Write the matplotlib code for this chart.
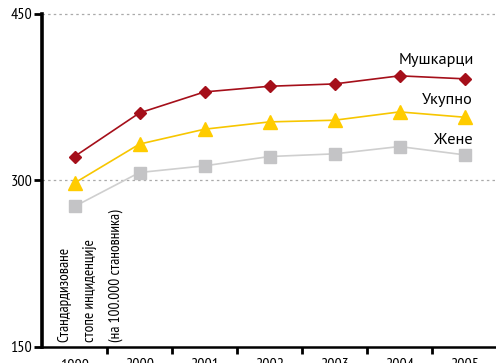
import matplotlib
matplotlib.use("Agg")
import matplotlib.pyplot as plt
from matplotlib import font_manager
from matplotlib.ticker import FixedLocator

installed = {f.name for f in font_manager.fontManager.ttflist}


def pick(cands):
    return [c for c in cands if c in installed][:1] + ['DejaVu Sans']


narrow = pick(['PT Sans Narrow', 'Roboto Condensed', 'Fira Sans Condensed',
               'IBM Plex Sans Condensed', 'Liberation Sans Narrow'])
regular = pick(['PT Sans', 'Fira Sans', 'Noto Sans', 'Open Sans'])
plt.rcParams['font.family'] = narrow

years = ['1999', '2000', '2001', '2002', '2003', '2004', '2005']
muskarci = [321.6, 360.9, 379.8, 384.9, 387.0, 394.3, 391.6]
ukupno = [297.7, 332.8, 346.2, 352.8, 354.3, 361.8, 357.0]
zene = [276.6, 307.2, 313.2, 321.6, 324.0, 330.6, 323.1]
series_names = ['Мушкарци', 'Укупно', 'Жене']
ylabel_lines = ['Стандардизоване', 'стопе инциденције', '(на 100.000 становника)']
yticks = [150, 300, 450]

W, H = 496, 363
fig = plt.figure(figsize=(W / 100, H / 100), dpi=100)
ax = fig.add_axes([42 / W, (H - 347) / H, 455 / W, 333 / H])

x = list(range(len(years)))
ax.plot(x, zene, color='#cfcfcf', lw=1.2, marker='s', ms=9.2,
        mfc='#c4c4c6', mec='#c4c4c6', zorder=3)
ax.plot(x, ukupno, color='#f7c600', lw=1.2, marker='^', ms=10,
        mfc='#ffcc00', mec='#ffcc00', zorder=3)
ax.plot(x, muskarci, color='#a50f1a', lw=1.2, marker='D', ms=6.4,
        mfc='#a50f1a', mec='#a50f1a', zorder=3)

ax.set_xlim(-0.5, 6.5)
ax.set_ylim(150, 450)

ax.set_yticks(yticks)
ax.set_yticklabels([str(v) for v in yticks], fontsize=11.5)
ax.tick_params(axis='y', direction='out', length=6, width=2, pad=1, colors='black')

ax.set_xticks(x)
ax.set_xticklabels(years, fontsize=11.5)
ax.tick_params(axis='x', which='major', length=0, pad=8)
ax.xaxis.set_minor_locator(FixedLocator([i + 0.5 for i in range(6)]))
ax.tick_params(axis='x', which='minor', direction='out', length=5, width=2)

for s in ['top', 'right']:
    ax.spines[s].set_visible(False)
ax.spines['left'].set_linewidth(2.6)
ax.spines['bottom'].set_linewidth(1.8)

for yv in [300, 450]:
    ax.axhline(yv, color='#aaaaaa', lw=0.9, ls=(0, (2, 2.5)), zorder=1, clip_on=False)

# series labels
label_pos = [(474, 64), (473, 104), (473, 144)]
name_texts = []
for name, (px, py) in zip(series_names, label_pos):
    t = fig.text(px / W, (H - py) / H, name, ha='right', va='baseline',
                 fontsize=12, family=regular)
    name_texts.append(t)

# rotated axis description inside plot
desc_texts = []
for i, line in enumerate(ylabel_lines):
    bx = 68 + 26 * i
    t = fig.text(bx / W, (H - 342) / H, line, rotation=90, rotation_mode='anchor',
                 ha='left', va='baseline', fontsize=11)
    desc_texts.append(t)

# fit font sizes to the measured widths of the reference
fig.canvas.draw()
r = fig.canvas.get_renderer()
w0 = name_texts[0].get_window_extent(r).width
fs_name = 12 * 75.0 / w0
for t in name_texts:
    t.set_fontsize(fs_name)
h2 = desc_texts[2].get_window_extent(r).height
fs_desc = 11 * 133.0 / h2
for t in desc_texts:
    t.set_fontsize(fs_desc)
tl = ax.get_yticklabels()[1]
wt = tl.get_window_extent(r).width
fs_tick = 11.5 * 22.0 / wt
for t in ax.get_yticklabels() + ax.get_xticklabels():
    t.set_fontsize(fs_tick)

fig.savefig('out.png', dpi=100)
